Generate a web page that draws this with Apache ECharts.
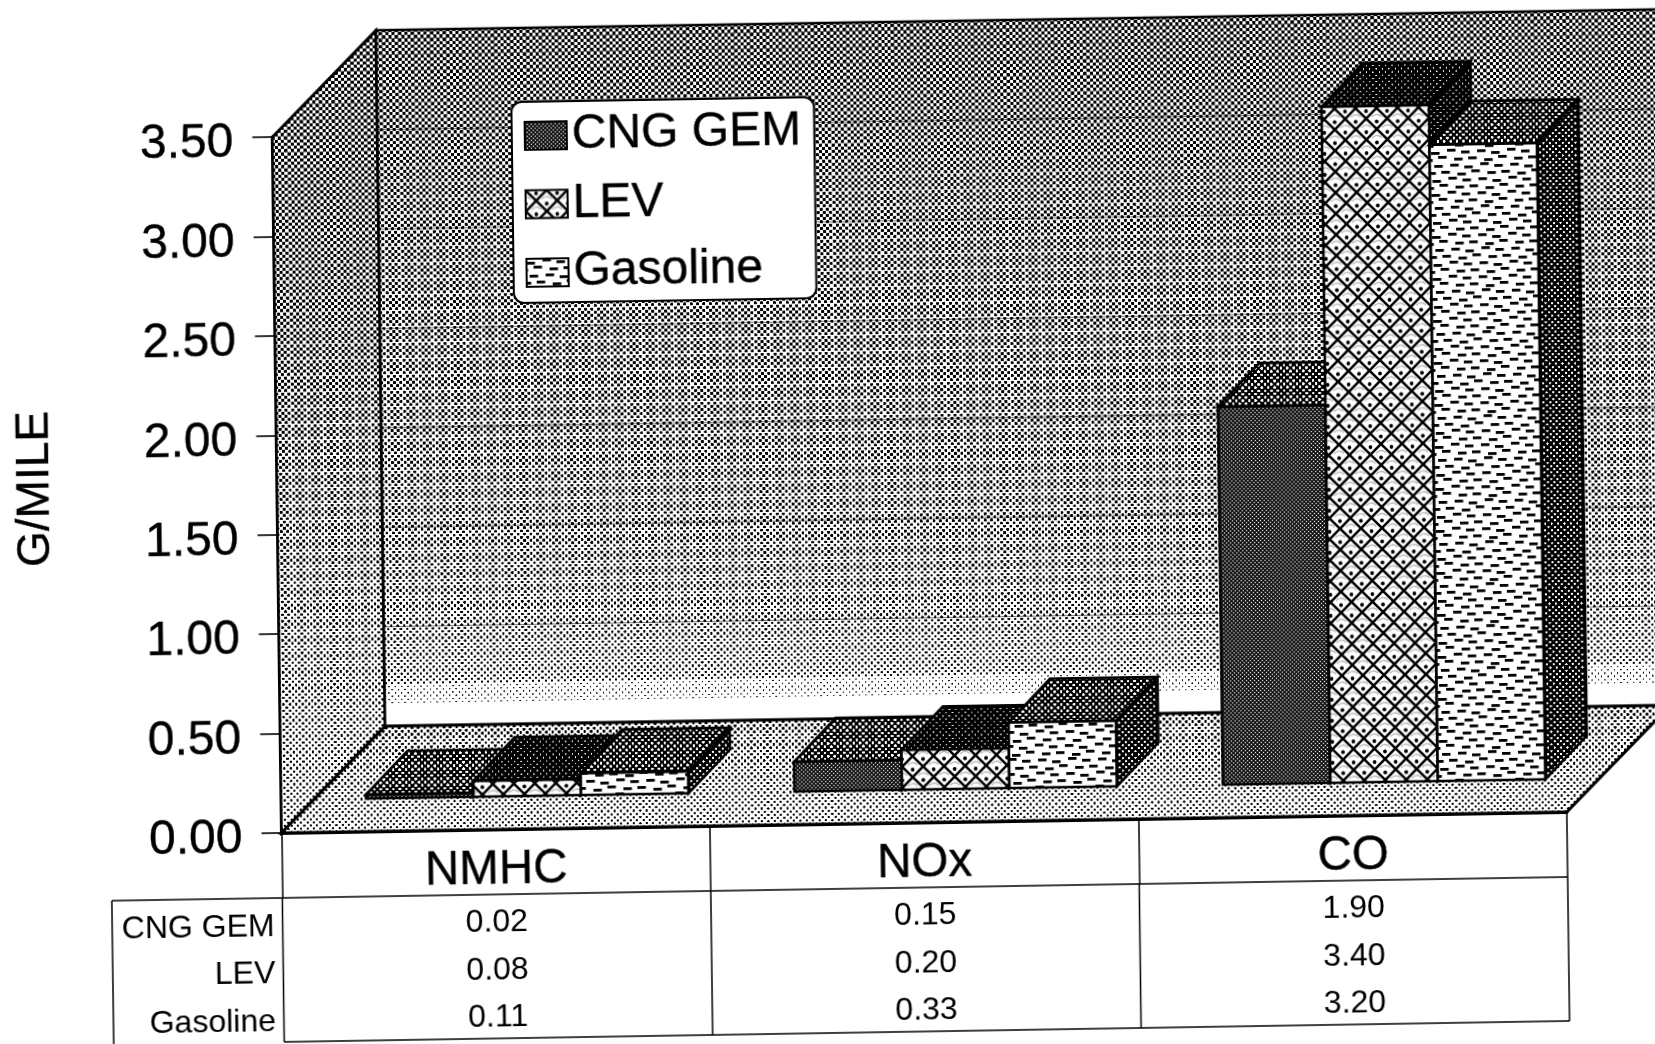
<!DOCTYPE html>
<html><head><meta charset="utf-8">
<style>html,body{margin:0;padding:0;background:#fff;overflow:hidden;width:1655px;height:1044px}
#c{position:absolute;left:0;top:0;width:1720px;height:1100px;transform-origin:282px 833px;transform:matrix(1,-0.0163,0.0132,1,0,0)}</style>
<script src="https://cdn.jsdelivr.net/npm/echarts@6/dist/echarts.min.js"></script>
</head><body><div id="c"></div>
<script>
const categories = ['NMHC', 'NOx', 'CO'];
const seriesNames = ['CNG GEM', 'LEV', 'Gasoline'];
const cngGem = [0.02, 0.15, 1.90];
const lev = [0.08, 0.20, 3.40];
const gasoline = [0.11, 0.33, 3.20];
const yTicks = [0, 0.5, 1, 1.5, 2, 2.5, 3, 3.5];
const yTitle = 'G/MILE';

const FONT = '"Liberation Sans", Arial, sans-serif';
const DEPTH = [105, -105];
const BAR_OFF = [32, -33];
const BAR_D = [42, -43];
const BAR_FRAC = 0.2508;
const ROW1 = 65, ROW_END = 209, ROW_C = [93.5, 141, 188.5];
const TABLE_LEFT = 111;

function lerpStops(st, y) {
  if (y <= st[0][0]) return st[0][1];
  for (let i = 1; i < st.length; i++) if (y <= st[i][0]) {
    const t = (y - st[i-1][0]) / (st[i][0] - st[i-1][0]);
    return st[i-1][1] + t * (st[i][1] - st[i-1][1]);
  }
  return st[st.length-1][1];
}
function ht(w, h, period, darkFn) {
  const c = document.createElement('canvas'); c.width = w; c.height = h;
  const g = c.getContext('2d'), im = g.createImageData(w, h), d = im.data;
  const k = 2 * Math.PI / period;
  for (let y = 0, p = 0; y < h; y++) {
    const t = darkFn(y);
    for (let x = 0; x < w; x++, p += 4) {
      const s = 0.5 + 0.25 * (Math.cos(k * (x + y)) + Math.cos(k * (x - y)));
      let v = t <= 0 ? 255 : (s - t) / 0.1 + 0.5;
      v = v <= 0 ? 0 : v >= 1 ? 255 : v * 255;
      d[p] = d[p+1] = d[p+2] = v; d[p+3] = 255;
    }
  }
  g.putImageData(im, 0, 0);
  return { image: c, repeat: 'repeat' };
}
const tone = (period, t) => ht(32, 32, period, () => t);

const wallFill = ht(1720, 1100, 6.4, y => lerpStops([[29,.52],[200,.47],[400,.44],[560,.39],[640,.34],[684,.30],[686,.14],[705,.12],[706,0]], y));
const leftFill = ht(1720, 1100, 6.4, y => lerpStops([[30,.52],[400,.46],[640,.36],[830,.28]], y));
const floorFill = ht(1720, 1100, 6.4, y => lerpStops([[727,.38],[833,.27]], y));

function levPattern() {
  const c = document.createElement('canvas'); const n = 21; c.width = c.height = n;
  const g = c.getContext('2d');
  g.fillStyle = '#fff'; g.fillRect(0, 0, n, n);
  g.strokeStyle = '#bbb'; g.lineWidth = 1.4;
  [[n/2,0],[0,n/2],[n,n/2],[n/2,n]].forEach(([x,y]) => { g.beginPath(); g.arc(x, y + 2, 6, Math.PI * 1.2, Math.PI * 1.8); g.stroke(); });
  g.strokeStyle = '#000'; g.lineWidth = 2.6;
  g.beginPath();
  g.moveTo(-2,-2); g.lineTo(n+2,n+2); g.moveTo(n+2,-2); g.lineTo(-2,n+2);
  g.stroke();
  g.fillStyle = '#000';
  [[n/2,0],[0,n/2],[n,n/2],[n/2,n]].forEach(([x,y]) => { g.beginPath(); g.arc(x, y + 3, 1.9, 0, 7); g.fill(); });
  return { image: c, repeat: 'repeat' };
}
function gasPattern() {
  const c = document.createElement('canvas'); c.width = 60; c.height = 42;
  const g = c.getContext('2d');
  g.fillStyle = '#fff'; g.fillRect(0, 0, 60, 42);
  g.fillStyle = '#000';
  const rows = [[1, 0], [8, 7], [15, 3], [22, 10], [29, 1], [36, 8]];
  const jitter = [0, 2, -1, 1];
  rows.forEach(([y, off], r) => {
    for (let k = -1; k < 4; k++) g.fillRect(off + k * 15 + (k % 2 ? 1 : 0), y + jitter[(k + 1 + r) % 4], 8.5, 2.8);
  });
  return { image: c, repeat: 'repeat' };
}
const frontFills = [tone(4, .535), levPattern(), gasPattern()];
const topFills = [tone(6.4, .64), tone(6.4, .88), tone(6.4, .66)];
const sideFills = [tone(6.4, .72), tone(6.4, .88), tone(6.4, .74)];

const black = { stroke: '#000', lineWidth: 2.6, lineJoin: 'miter' };
function poly(points, fill, lw) {
  return { type: 'polygon', shape: { points }, style: Object.assign({}, black, { fill, lineWidth: lw || black.lineWidth }) };
}
function line(a, b, w, op) {
  return { type: 'line', shape: { x1: a[0], y1: a[1], x2: b[0], y2: b[1] }, style: { stroke: '#000', lineWidth: w, opacity: op == null ? 1 : op, fill: null } };
}
function txt(x, y, text, size, align) {
  return { type: 'text', style: { x, y, text, fill: '#000', fontSize: size, fontFamily: FONT, align: align || 'center', verticalAlign: 'middle' } };
}

function renderBack(params, api) {
  const cs = params.coordSys;
  const L = cs.x, R = cs.x + cs.width;
  const top = api.coord([0, 3.5])[1], bot = api.coord([0, 0])[1];
  const dx = DEPTH[0], dy = DEPTH[1];
  const ch = [
    poly([[L, bot], [L, top], [L+dx, top+dy], [L+dx, bot+dy]], leftFill),
    poly([[L+dx, top+dy], [R+dx, top+dy], [R+dx, bot+dy], [L+dx, bot+dy]], wallFill),
    poly([[L, bot], [R, bot], [R+dx, bot+dy], [L+dx, bot+dy]], floorFill, 3)
  ];
  yTicks.forEach(v => {
    if (v === 0) return;
    const y = api.coord([0, v])[1];
    ch.push(line([L+dx, y+dy], [R+dx, y+dy], 1, .55));
    ch.push(line([L, y], [L+dx, y+dy], 1, .2));
  });
  return { type: 'group', children: ch };
}

function barRenderer(idx) {
  return function (params, api) {
    const c = api.coord([api.value(0), api.value(1)]);
    const base = api.coord([api.value(0), 0])[1];
    const band = api.size([1, 0])[0], w = band * BAR_FRAC;
    const x = c[0] + (idx - 1.5) * w + BAR_OFF[0];
    const y0 = base + BAR_OFF[1], yt = c[1] + BAR_OFF[1];
    const dx = BAR_D[0], dy = BAR_D[1];
    return { type: 'group', children: [
      poly([[x+w, y0], [x+w+dx, y0+dy], [x+w+dx, yt+dy], [x+w, yt]], sideFills[idx]),
      poly([[x, yt], [x+w, yt], [x+w+dx, yt+dy], [x+dx, yt+dy]], topFills[idx]),
      poly([[x, y0], [x+w, y0], [x+w, yt], [x, yt]], frontFills[idx])
    ]};
  };
}

function renderTable(params, api) {
  const cs = params.coordSys;
  const i = api.value(0);
  const c = api.coord([i, 0]);
  const band = api.size([1, 0])[0];
  const bot = c[1];
  const ch = [];
  [api.value(1), api.value(2), api.value(3)].forEach((v, r) => {
    ch.push(txt(c[0], bot + ROW_C[r], v.toFixed(2), 32));
  });
  ch.push(line([c[0] + band / 2, bot + ROW1], [c[0] + band / 2, bot + ROW_END], 1.5));
  if (i === 0) {
    const L = cs.x, R = cs.x + cs.width;
    ch.push(line([TABLE_LEFT, bot + ROW1], [R, bot + ROW1], 1.6));
    ch.push(line([L, bot + ROW_END], [R, bot + ROW_END], 1.6));
    ch.push(line([TABLE_LEFT, bot + ROW1], [TABLE_LEFT, bot + ROW_END], 1.5));
    ch.push(line([L, bot + ROW1], [L, bot + ROW_END], 1.5));
    seriesNames.forEach((n, r) => ch.push(txt(L - 8, bot + ROW_C[r] + 0.5, n, 32, 'right')));
  }
  return { type: 'group', children: ch };
}

const chart = echarts.init(document.getElementById('c'), null, { renderer: 'canvas', devicePixelRatio: 1, width: 1720, height: 1100 });
chart.setOption({
  animation: false,
  backgroundColor: '#fff',
  textStyle: { fontFamily: FONT },
  grid: { left: 281.5, top: 137, width: 1285.5, height: 696, containLabel: false },
  legend: {
    left: 521, top: 106, orient: 'vertical', selectedMode: false,
    padding: [7, 13, 3, 12], itemWidth: 42, itemHeight: 28, itemGap: 14.5,
    backgroundColor: '#fff', borderColor: '#000', borderWidth: 2, borderRadius: 10,
    textStyle: { fontSize: 48, fontFamily: FONT, color: '#000', lineHeight: 54, textBorderColor: '#000', textBorderWidth: 0.4 },
    data: seriesNames.map((name, i) => ({ name, icon: 'rect', itemStyle: { color: frontFills[i], borderColor: '#000', borderWidth: 2 } }))
  },
  xAxis: {
    type: 'category', data: categories,
    axisLine: { show: true, lineStyle: { color: '#000', width: 3 } },
    axisTick: { show: true, length: ROW1, lineStyle: { color: '#000', width: 1.5 } },
    axisLabel: { fontSize: 47.5, color: '#000', margin: 17, fontFamily: FONT, textBorderColor: '#000', textBorderWidth: 0.4 }
  },
  yAxis: {
    type: 'value', min: 0, max: 3.5, interval: 0.5,
    name: yTitle, nameLocation: 'middle', nameGap: 218, nameRotate: 90,
    nameTextStyle: { fontSize: 46, color: '#000', fontFamily: FONT, textBorderColor: '#000', textBorderWidth: 0.4 },
    axisLine: { show: true, lineStyle: { color: '#000', width: 3 } },
    axisTick: { show: true, length: 20, lineStyle: { color: '#000', width: 1.6 } },
    axisLabel: { fontSize: 48, color: '#000', margin: 39, fontFamily: FONT, verticalAlign: 'top', lineHeight: 12, textBorderColor: '#000', textBorderWidth: 0.4, formatter: v => v.toFixed(2) },
    splitLine: { show: false }
  },
  series: [
    { type: 'custom', name: 'backdrop', renderItem: renderBack, data: [[0, 0]], silent: true, z: 1 },
    { type: 'custom', name: seriesNames[0], renderItem: barRenderer(0), data: categories.map((c, i) => [i, cngGem[i]]), z: 2 },
    { type: 'custom', name: seriesNames[1], renderItem: barRenderer(1), data: categories.map((c, i) => [i, lev[i]]), z: 3 },
    { type: 'custom', name: seriesNames[2], renderItem: barRenderer(2), data: categories.map((c, i) => [i, gasoline[i]]), z: 3 },
    { type: 'custom', name: 'table', renderItem: renderTable, data: categories.map((c, i) => [i, cngGem[i], lev[i], gasoline[i]]), silent: true, z: 2 }
  ]
});
</script></body></html>
